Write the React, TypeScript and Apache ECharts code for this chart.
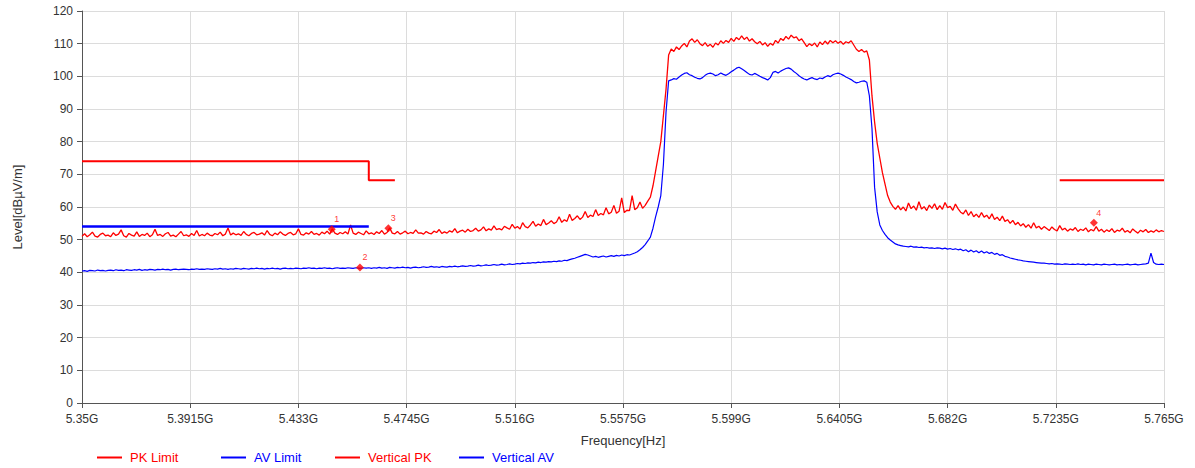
import React, { useEffect, useRef } from "react";
import * as echarts from "echarts";

// Frequency axis: offsets in MHz from 5350 MHz (5.35 GHz); traces sampled every 1 MHz
const START_MHZ = 5350;
const STEP_MHZ = 1;
const X_TICK_INTERVAL_MHZ = 41.5;
const xTickLabels = ["5.35G", "5.3915G", "5.433G", "5.4745G", "5.516G", "5.5575G", "5.599G", "5.6405G", "5.682G", "5.7235G", "5.765G"];

// Vertical PK trace (dBµV/m), 5350..5765 MHz, 1 MHz step
const verticalPK = [
  51.0, 51.8, 50.9, 51.5, 52.3, 51.1, 50.8, 51.6, 52.0, 51.2,
  51.4, 50.9, 52.1, 51.3, 51.7, 53.0, 51.2, 50.8, 51.9, 51.4,
  51.1, 52.4, 51.0, 51.6, 51.3, 52.0, 50.9, 51.5, 53.2, 51.3,
  51.6, 51.0, 51.8, 52.2, 51.1, 51.4, 50.9, 51.7, 52.5, 51.2,
  51.5, 51.0, 51.9, 51.3, 52.8, 51.1, 51.6, 51.2, 52.0, 51.4,
  51.2, 51.9, 51.5, 52.3, 51.2, 51.7, 53.6, 51.4, 52.0, 51.5,
  51.8, 51.3, 52.5, 51.6, 51.2, 51.9, 52.2, 51.5, 51.7, 52.1,
  51.4, 52.8, 51.6, 51.2, 52.0, 51.5, 52.4, 51.7, 51.3, 51.9,
  52.2, 51.5, 51.8, 53.3, 51.6, 51.4, 52.1, 51.7, 52.5, 51.6,
  51.9, 51.4, 52.3, 51.8, 52.6, 51.7, 53.3, 52.0, 51.6, 52.2,
  51.8, 52.4, 51.7, 54.5, 52.0, 51.6, 52.3, 51.9, 51.5, 52.7,
  51.8, 52.1, 51.6, 52.4, 51.9, 52.8, 51.7, 52.2, 53.6, 52.0,
  51.8, 52.5, 51.7, 52.1, 52.6, 51.8, 52.2, 51.9, 53.0, 52.0,
  52.1, 51.7, 52.5, 52.0, 51.8, 52.6, 52.2, 53.1, 51.9, 52.4,
  52.0, 52.7, 52.3, 53.4, 52.1, 52.6, 52.9, 52.3, 53.2, 52.5,
  52.8, 53.5, 52.6, 53.0, 53.9, 52.7, 53.3, 52.9, 54.2, 53.1,
  53.4, 53.0, 54.1, 53.6, 53.2, 54.7, 53.5, 54.0, 53.3, 55.2,
  54.0, 53.6, 54.5, 55.6, 54.1, 54.8, 54.3, 56.2, 54.6, 55.1,
  55.8, 54.9, 55.4, 57.0, 55.3, 56.1, 55.6, 57.8, 55.9, 56.5,
  57.3, 56.2, 56.9, 58.6, 56.8, 57.5, 57.1, 59.2, 57.4, 58.0,
  57.6, 59.8, 57.9, 58.4, 60.5, 58.1, 58.7, 62.8, 58.3, 59.0,
  58.9, 63.5, 59.2, 59.8, 61.5, 59.6, 60.5, 61.8, 63.0, 66.5,
  71.0, 75.5, 80.0, 88.0, 96.0, 106.5, 108.4, 107.6, 109.0, 108.2,
  109.3, 110.1, 109.0, 110.8, 111.5, 110.4, 111.2, 110.0, 109.4, 110.3,
  109.2, 109.8, 108.9, 110.2, 109.6, 110.9, 110.1, 111.0, 110.4, 111.6,
  110.7, 111.9, 111.2, 112.4, 111.3, 112.0, 110.8, 111.5, 110.6, 110.0,
  110.7, 109.6, 110.3, 109.2, 110.1, 109.5, 111.0, 110.2, 111.6, 111.0,
  112.2, 111.4, 112.6, 111.8, 112.1, 110.9, 111.5, 110.3, 109.1, 110.0,
  109.4, 110.2, 109.0, 110.5, 109.7, 110.8, 109.9, 111.0, 110.3, 110.9,
  110.1, 110.7, 109.8, 110.6, 110.2, 110.9, 109.6, 108.3, 107.6, 108.2,
  107.4, 107.8, 105.0, 94.0, 86.0, 79.5, 75.0, 70.5, 67.0, 63.5,
  61.5, 60.2, 59.3, 60.4, 59.1, 60.0, 58.8, 61.2, 59.5, 60.3,
  59.0, 61.6, 59.4, 60.1, 58.9, 60.6, 59.6, 61.0, 59.2, 60.4,
  59.3, 61.4, 59.8, 60.2, 59.0, 60.9, 59.5, 58.4, 57.9, 59.1,
  57.4, 58.6, 57.0, 57.8, 56.8, 58.3, 56.9, 57.5, 56.4, 57.9,
  56.2, 56.9, 55.8, 57.2, 55.6, 56.1, 55.0, 55.9, 54.6, 55.3,
  54.2, 54.9, 53.8, 54.6, 53.5, 55.2, 53.6, 54.1, 53.2, 54.0,
  53.4, 52.8, 53.9, 53.1, 52.7, 54.3, 53.0, 53.5, 52.6, 53.3,
  52.9, 53.7, 52.5, 53.2, 52.8, 53.6, 52.4, 53.1, 52.7, 54.0,
  52.6, 53.2, 52.3, 53.0, 52.5, 53.4, 52.2, 52.9, 52.6, 53.5,
  52.3, 52.8, 52.1, 53.3, 52.6, 52.0, 52.9, 52.4, 53.1, 52.2,
  52.7, 52.3, 53.0, 52.4, 52.8, 52.5,
];

// Vertical AV trace (dBµV/m), 5350..5765 MHz, 1 MHz step
const verticalAV = [
  40.4, 40.5, 40.3, 40.6, 40.5, 40.4, 40.7, 40.5, 40.6, 40.4,
  40.6, 40.7, 40.5, 40.8, 40.6, 40.7, 40.5, 40.8, 40.7, 40.6,
  40.8, 40.7, 40.9, 40.6, 40.8, 40.7, 40.9, 40.8, 40.7, 40.9,
  40.8, 41.0, 40.8, 40.9, 40.7, 40.9, 41.0, 40.8, 40.9, 41.0,
  40.9, 40.8, 41.0, 40.9, 41.1, 40.9, 41.0, 40.9, 41.1, 41.0,
  40.9, 41.1, 41.0, 41.2, 41.0, 41.1, 40.9, 41.1, 41.0, 41.2,
  41.1, 41.0, 41.2, 41.1, 41.0, 41.2, 41.1, 41.3, 41.1, 41.2,
  41.0, 41.2, 41.1, 41.3, 41.1, 41.2, 41.0, 41.2, 41.3, 41.1,
  41.2, 41.1, 41.3, 41.2, 41.1, 41.3, 41.2, 41.4, 41.2, 41.3,
  41.1, 41.3, 41.2, 41.4, 41.2, 41.3, 41.1, 41.3, 41.4, 41.2,
  41.3, 41.2, 41.4, 41.3, 41.2, 41.4, 41.3, 41.2, 41.4, 41.3,
  41.4, 41.2, 41.4, 41.3, 41.5, 41.3, 41.4, 41.2, 41.5, 41.4,
  41.3, 41.5, 41.4, 41.6, 41.4, 41.5, 41.3, 41.5, 41.6, 41.4,
  41.5, 41.7, 41.5, 41.6, 41.8, 41.6, 41.7, 41.5, 41.8, 41.7,
  41.6, 41.8, 41.7, 41.9, 41.7, 41.8, 42.0, 41.8, 41.9, 42.1,
  41.9, 42.0, 42.2, 42.0, 42.1, 42.3, 42.1, 42.2, 42.4, 42.2,
  42.3, 42.5, 42.3, 42.4, 42.6, 42.4, 42.5, 42.7, 42.6, 42.8,
  42.7, 42.9, 42.8, 43.0, 42.9, 43.1, 43.0, 43.2, 43.1, 43.3,
  43.2, 43.4, 43.3, 43.5, 43.4, 43.7, 43.6, 43.9, 44.1, 44.3,
  44.6, 44.9, 45.2, 45.5, 45.3, 45.0, 44.7, 44.9, 44.6, 44.8,
  45.0, 44.7, 44.9, 45.1, 44.9, 45.2, 45.0, 45.3, 45.1, 45.4,
  45.3, 45.6, 45.9, 46.3, 46.9, 47.6, 48.5, 49.6, 50.8, 53.5,
  57.0, 60.0, 63.5, 73.0, 89.0, 98.6, 98.9, 99.3, 99.1, 99.8,
  100.4, 100.9, 101.1, 100.5, 100.2, 99.7, 99.4, 99.2, 99.6, 100.3,
  100.8, 101.0, 100.7, 100.2, 100.5, 101.0, 100.6, 100.3, 100.8, 101.4,
  101.9, 102.5, 102.8, 102.3, 101.8, 101.2, 100.6, 100.4, 100.9, 100.5,
  100.0, 99.6, 99.3, 98.9, 99.6, 101.2, 101.5, 101.0, 101.6, 102.0,
  102.4, 102.6, 102.2, 101.5, 100.9, 100.2, 99.6, 99.2, 98.9, 99.3,
  99.6, 99.2, 99.0, 99.5, 99.3, 99.8, 100.2, 99.9, 100.5, 100.8,
  101.0, 100.7, 100.3, 99.8, 99.4, 99.0, 98.4, 98.0, 98.2, 98.5,
  98.6, 98.2, 94.0, 84.0, 66.0, 58.5, 54.5, 52.8, 51.6, 50.6,
  49.9, 49.3, 48.7, 48.4, 48.2, 48.0, 47.9, 47.8, 48.0, 47.7,
  47.8, 47.6, 47.7, 47.5, 47.6, 47.4, 47.5, 47.3, 47.5, 47.4,
  47.2, 47.4, 47.1, 47.3, 47.0, 47.2, 46.9, 47.1, 46.6, 46.9,
  46.3, 46.8, 46.2, 46.6, 46.0, 46.5, 45.9, 46.3, 45.8, 46.1,
  45.5, 45.8, 45.2, 45.4, 44.9, 44.7, 44.4, 44.2, 44.0, 43.8,
  43.7, 43.5, 43.4, 43.3, 43.2, 43.1, 43.0, 42.9, 42.8, 42.8,
  42.7, 42.6, 42.7, 42.5, 42.6, 42.5, 42.4, 42.6, 42.5, 42.4,
  42.5, 42.4, 42.6, 42.4, 42.5, 42.3, 42.5, 42.4, 42.3, 42.5,
  42.4, 42.3, 42.5, 42.4, 42.3, 42.4, 42.5, 42.3, 42.4, 42.3,
  42.4, 42.5, 42.3, 42.4, 42.5, 42.3, 42.4, 42.5, 42.6, 42.8,
  45.9, 43.0, 42.5, 42.4, 42.5, 42.4,
];

// Limit lines: [frequency MHz, level dBµV/m]
const pkLimitLow = [[5350, 74], [5460, 74], [5460, 68.2], [5470, 68.2]];
const pkLimitHigh = [[5725, 68.2], [5765, 68.2]];
const avLimit = [[5350, 54], [5460, 54]];

// Markers
const markerFreqMHz = [5445.8, 5456.6, 5467.5, 5738.1];
const markerLevels = [53.2, 41.5, 53.5, 55.2];
const markerNames = ["1", "2", "3", "4"];

const RED = "#ff0000";
const BLUE = "#0000ff";
const FONT = "'Liberation Sans', Arial, sans-serif";

const toXY = (pts: number[][]) => pts.map(([f, v]) => [f - START_MHZ, v]);
const traceXY = (vals: number[]) => vals.map((v, i) => [i * STEP_MHZ, v]);

export default function App() {
  const ref = useRef<HTMLDivElement>(null);
  useEffect(() => {
    if (!ref.current) return;
    const chart = echarts.init(ref.current, null, { renderer: "svg" });
    const legendBase = {
      padding: 0,
      top: 451,
      icon: "rect",
      itemWidth: 25,
      itemHeight: 2,
      selectedMode: false,
    };
    chart.setOption({
      animation: false,
      backgroundColor: "#ffffff",
      textStyle: { fontFamily: FONT },
      grid: { left: 82, right: 31, top: 11, bottom: 65 },
      legend: [
        { ...legendBase, left: 97, data: ["PK Limit"], textStyle: { color: RED, fontSize: 13, fontFamily: FONT, padding: [0, 0, 0, 3] } },
        { ...legendBase, left: 221, data: ["AV Limit"], textStyle: { color: BLUE, fontSize: 13, fontFamily: FONT, padding: [0, 0, 0, 3] } },
        { ...legendBase, left: 335, data: ["Vertical PK"], textStyle: { color: RED, fontSize: 13, fontFamily: FONT, padding: [0, 0, 0, 3] } },
        { ...legendBase, left: 459, data: ["Vertical AV"], textStyle: { color: BLUE, fontSize: 13, fontFamily: FONT, padding: [0, 0, 0, 3] } },
      ],
      xAxis: {
        type: "value",
        min: 0,
        max: 415,
        interval: X_TICK_INTERVAL_MHZ,
        name: "Frequency[Hz]",
        nameLocation: "middle",
        nameGap: 31,
        nameTextStyle: { fontSize: 13, color: "#333", fontFamily: FONT },
        axisLine: { show: true, lineStyle: { color: "#555", width: 1 } },
        axisTick: { show: true, length: 5, lineStyle: { color: "#555" } },
        axisLabel: {
          fontSize: 12,
          color: "#333",
          margin: 10,
          fontFamily: FONT,
          formatter: (v: number) => xTickLabels[Math.round(v / X_TICK_INTERVAL_MHZ)] ?? "",
        },
        splitLine: { show: true, lineStyle: { color: "#dcdcdc", width: 1 } },
      },
      yAxis: {
        type: "value",
        min: 0,
        max: 120,
        interval: 10,
        name: "Level[dBµV/m]",
        nameLocation: "middle",
        nameGap: 58,
        nameTextStyle: { fontSize: 13, color: "#333", fontFamily: FONT },
        axisLine: { show: true, lineStyle: { color: "#555", width: 1 } },
        axisTick: { show: true, length: 5, lineStyle: { color: "#555" } },
        axisLabel: { fontSize: 12, color: "#333", margin: 9, fontFamily: FONT },
        splitLine: { show: true, lineStyle: { color: "#dcdcdc", width: 1 } },
      },
      series: [
        {
          name: "Vertical AV",
          type: "line",
          data: traceXY(verticalAV),
          symbol: "none",
          lineStyle: { color: BLUE, width: 1.2 },
          itemStyle: { color: BLUE },
          z: 2,
        },
        {
          name: "Vertical PK",
          type: "line",
          data: traceXY(verticalPK),
          symbol: "none",
          lineStyle: { color: RED, width: 1.3 },
          itemStyle: { color: RED },
          z: 3,
        },
        {
          name: "PK Limit",
          type: "line",
          data: toXY(pkLimitLow),
          symbol: "none",
          lineStyle: { color: RED, width: 2 },
          itemStyle: { color: RED },
          z: 4,
        },
        {
          name: "PK Limit",
          type: "line",
          data: toXY(pkLimitHigh),
          symbol: "none",
          lineStyle: { color: RED, width: 2 },
          itemStyle: { color: RED },
          z: 4,
        },
        {
          name: "AV Limit",
          type: "line",
          data: toXY(avLimit),
          symbol: "none",
          lineStyle: { color: BLUE, width: 2.5 },
          itemStyle: { color: BLUE },
          z: 4,
        },
        {
          name: "Markers",
          type: "scatter",
          data: markerFreqMHz.map((f, i) => [f - START_MHZ, markerLevels[i]]),
          symbol: "diamond",
          symbolSize: 8,
          itemStyle: { color: RED },
          label: {
            show: true,
            position: "inside",
            offset: [5, -10],
            fontSize: 9,
            color: RED,
            fontFamily: FONT,
            formatter: (p: any) => markerNames[p.dataIndex],
          },
          z: 5,
        },
      ],
    });
    return () => chart.dispose();
  }, []);
  return (
    <div
      ref={ref}
      style={{ position: "fixed", left: 0, top: 0, width: 1195, height: 468, background: "#fff" }}
    />
  );
}
